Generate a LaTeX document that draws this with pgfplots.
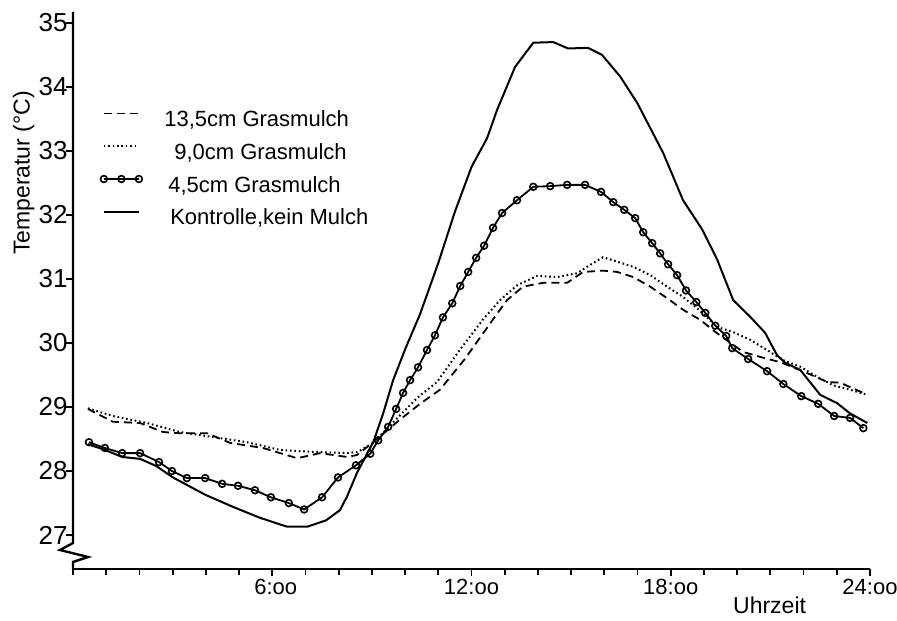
\documentclass[border=0pt]{standalone}
\usepackage{fontspec}
\setmainfont{Liberation Sans}
\usepackage{pgfplots}
\usepackage{pgfplotstable}
\pgfplotsset{compat=1.18}
\pgfplotsset{circlegend/.style={legend image code/.code={\draw[##1] plot coordinates {(0pt,3.5pt) (8.75pt,3.5pt) (17.5pt,3.5pt)};}}}

\pgfplotstableread{
h T
0.45 28.97
1.2 28.77
2.02 28.75
2.71 28.61
3.22 28.59
4.04 28.59
4.73 28.44
5.72 28.36
6.75 28.20
7.44 28.28
8.25 28.22
8.55 28.25
9.04 28.45
9.79 28.78
10.45 29.05
11.05 29.27
11.8 29.75
12.65 30.37
13.07 30.67
13.55 30.88
14.16 30.94
14.88 30.94
15.36 31.11
15.96 31.13
16.39 31.11
16.87 31.03
17.38 30.88
17.89 30.70
18.37 30.52
18.89 30.36
19.4 30.15
20.18 29.86
20.78 29.77
21.3 29.70
22.11 29.53
22.71 29.39
23.1 29.38
23.8 29.22
}\dashedtab

\pgfplotstableread{
h T
0.45 28.98
1.2 28.86
2.23 28.75
3.22 28.61
4.22 28.53
5.24 28.45
6.23 28.33
7.23 28.30
8.25 28.28
8.58 28.30
9.04 28.44
9.79 28.84
10.36 29.14
10.96 29.39
11.66 29.90
12.35 30.37
12.86 30.67
13.37 30.90
13.98 31.05
14.58 31.03
15.18 31.09
15.57 31.22
15.96 31.34
16.39 31.27
16.87 31.19
17.38 31.06
17.89 30.88
18.37 30.72
18.89 30.50
19.4 30.25
19.88 30.17
20.39 30.05
20.9 29.89
21.39 29.73
21.9 29.63
22.41 29.47
22.89 29.34
23.4 29.27
23.92 29.19
}\dottedtab

\pgfplotstableread{
h T
0.48 28.45
0.96 28.36
1.48 28.28
2.02 28.28
2.59 28.14
2.98 28.00
3.43 27.89
3.98 27.89
4.49 27.80
4.97 27.77
5.48 27.70
5.96 27.59
6.5 27.50
6.96 27.40
7.5 27.59
7.98 27.90
8.52 28.09
8.95 28.27
9.19 28.48
9.49 28.69
9.73 28.97
9.94 29.22
10.15 29.42
10.39 29.62
10.66 29.89
10.9 30.12
11.14 30.40
11.42 30.62
11.66 30.89
11.9 31.11
12.14 31.33
12.38 31.52
12.65 31.80
12.92 32.03
13.37 32.23
13.86 32.44
14.37 32.45
14.88 32.47
15.42 32.47
15.9 32.36
16.27 32.20
16.6 32.08
16.93 31.95
17.17 31.73
17.44 31.56
17.68 31.40
17.92 31.23
18.19 31.06
18.46 30.82
18.77 30.64
19.04 30.47
19.34 30.27
19.67 30.11
19.85 29.92
20.33 29.75
20.9 29.56
21.39 29.36
21.93 29.17
22.44 29.05
22.92 28.86
23.4 28.83
23.8 28.67
}\circtab

\pgfplotstableread{
h T
0.45 28.42
0.96 28.33
1.48 28.22
2.02 28.19
2.5 28.08
3.01 27.90
3.98 27.63
4.82 27.44
5.63 27.27
6.45 27.13
7.05 27.13
7.62 27.23
8.04 27.39
8.25 27.60
8.55 27.97
9.04 28.45
9.34 28.90
9.64 29.42
10.0 29.90
10.45 30.45
11.0 31.25
11.5 32.05
12.0 32.75
12.47 33.20
12.77 33.64
13.31 34.31
13.86 34.69
14.46 34.70
14.91 34.60
15.51 34.61
15.93 34.50
16.48 34.16
16.99 33.75
17.77 32.97
18.37 32.23
18.95 31.77
19.4 31.30
19.88 30.67
20.39 30.41
20.84 30.16
21.2 29.81
21.45 29.69
21.9 29.58
22.5 29.19
23.01 29.06
23.4 28.90
23.92 28.75
}\solidtab

\begin{document}
\begin{tikzpicture}
\begin{axis}[
  scale only axis, width=398.5pt, height=278.5pt,
  xmin=0, xmax=24, ymin=26.47, ymax=35.17,
  axis lines*=left,
  y axis line style={draw=none},
  x axis line style={line width=1.2pt},
  clip=false,
  xtick={6,12,18,24},
  xticklabels={\hspace{3.5pt}6:oo,12:oo,18:oo,24:oo\hspace{8pt}},
  minor xtick={0,1,...,24},
  ytick={27,28,...,35},
  tick align=outside,
  major tick length=3.5pt, minor tick length=3pt,
  every tick/.style={black, line width=0.9pt},
  /pgf/number format/assume math mode=true,
  yticklabel style={font=\fontsize{13}{15}\selectfont, inner sep=0.5pt, xshift=1.5pt},
  xticklabel style={font=\fontsize{11}{13}\selectfont, yshift=2pt},
  ylabel={Temperatur (°C)},
  ylabel style={at={(axis description cs:-0.062,0.711)}, anchor=center, font=\fontsize{11.5}{13}\selectfont},
  xlabel={Uhrzeit},
  xlabel style={at={(axis description cs:0.874,0)}, anchor=center, yshift=-18pt, font=\fontsize{11.5}{13}\selectfont},
  legend cell align=left,
  legend style={at={(axis description cs:0.034,0.824)}, anchor=north west, draw=none, fill=none, inner sep=0pt,
    row sep=6.3pt,
    nodes={inner sep=0pt, text height=8pt, text depth=2pt, font=\fontsize{11}{13}\selectfont},
    /tikz/every odd column/.append style={column sep=11pt}},
  legend image code/.code={\draw[#1] (0pt,3.5pt) -- (17.5pt,3.5pt);},
]
\addplot[black, line width=0.9pt, dash pattern=on 4pt off 2.5pt] table[x=h,y=T] {\dashedtab};
\addlegendentry{13,5cm Grasmulch}
\addplot[black, line width=1pt, dash pattern=on 0.8pt off 1.4pt] table[x=h,y=T] {\dottedtab};
\addlegendentry{\hspace{5pt}9,0cm Grasmulch}
\addplot[black, line width=0.9pt, mark=o, mark size=1.7pt, mark options={fill=white, line width=0.8pt}, circlegend]
  table[x=h,y=T] {\circtab};
\addlegendentry{\hspace{2pt}4,5cm Grasmulch}
\addplot[black, line width=1pt] table[x=h,y=T] {\solidtab};
\addlegendentry{\hspace{3pt}Kontrolle,kein Mulch}
\end{axis}
\draw[line width=1.2pt] (0,278.5pt) -- (0,13pt) -- (-6.5pt,9.5pt) -- (7.5pt,6pt) -- (0,3.5pt) -- (0,0);
\pgfresetboundingbox
\useasboundingbox (-36.5pt,-25.5pt) rectangle (412pt,284.5pt);
\end{tikzpicture}
\end{document}
